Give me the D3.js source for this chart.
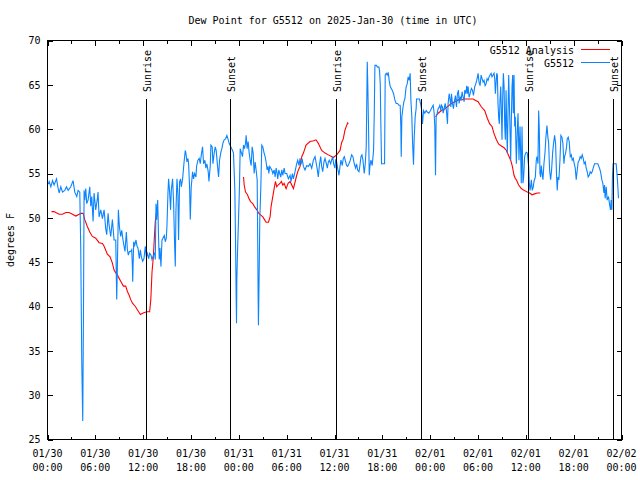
<!DOCTYPE html>
<html><head><meta charset="utf-8">
<script src="https://cdn.jsdelivr.net/npm/d3@7"></script>
<style>
body{margin:0;background:#fff}
svg{display:block}
text{font-family:"DejaVu Sans Mono",monospace;font-size:10px;fill:#000}
</style>
</head><body>
<svg id="c" width="640" height="480"></svg>
<script>
// ---------- data (hours after 2025-01-30 00:00 UTC, degrees F) ----------
const chartTitle = "Dew Point for G5512 on 2025-Jan-30 (time in UTC)";
const yAxisLabel = "degrees F";
const yTicks = [25,30,35,40,45,50,55,60,65,70];
const xMajorHours = [0,6,12,18,24,30,36,42,48,54,60,66,72];
const xMinorHours = [3,9,15,21,27,33,39,45,51,57,63,69];
const sunHours = [12.3,22.85,36.2,46.85,60.25,70.9];
const sunLabels = ["Sunrise","Sunset","Sunrise","Sunset","Sunrise","Sunset"];
const seriesNames = ["G5512 Analysis","G5512"];
const seriesColors = ["#ff0000","#0a84ff"];

// G5512 Analysis (null = gap)
const analysis = [[0.5,50.7],[0.83,50.7],[1.04,50.6],[1.46,50.4],[1.88,50.4],[2.30,50.6],[2.71,50.6],[3.13,50.4],[3.55,50.2],[3.97,50.4],[4.17,50.5],[4.47,50.5],[4.67,49.8],[5.01,49.0],[5.30,48.4],[5.63,47.9],[6.05,47.7],[6.47,47.2],[6.89,47.1],[7.10,46.8],[7.51,45.9],[7.85,45.6],[8.14,44.9],[8.35,44.1],[8.56,43.8],[8.76,43.6],[8.97,43.2],[9.27,42.7],[9.52,42.3],[9.81,42.3],[10.02,41.7],[10.23,41.3],[10.43,40.8],[10.64,40.4],[11.02,40.0],[11.43,39.4],[11.65,39.1],[12.06,39.3],[12.48,39.4],[12.81,39.4],[12.96,40.8],[13.11,43.9],[13.27,45.5],[13.40,47.7],[13.52,49.6],[13.65,50.5],
null,
[24.59,54.6],[24.67,53.7],[24.84,52.9],[25.09,52.6],[25.25,52.2],[25.50,51.8],[25.75,51.6],[26.00,51.2],[26.26,50.9],[26.51,50.5],[26.76,50.3],[27.01,50.1],[27.22,49.8],[27.42,49.5],[27.72,49.5],[27.92,50.1],[28.05,51.3],[28.26,52.4],[28.43,53.3],[28.59,54.1],[28.76,53.5],[28.93,53.7],[29.18,53.9],[29.34,54.1],[29.51,53.7],[29.68,53.9],[29.93,53.3],[30.18,53.9],[30.43,54.1],[30.85,53.3],[31.26,54.8],[31.47,55.4],[31.68,55.8],[31.89,56.9],[32.10,57.3],[32.43,58.2],[32.93,58.6],[33.40,58.7],[33.68,58.8],[33.97,58.4],[34.39,57.6],[34.81,57.3],[35.23,57.1],[35.85,56.8],[36.27,57.1],[36.69,57.6],[36.90,58.5],[37.10,58.9],[37.31,59.9],[37.51,60.4],[37.65,60.7],[37.73,60.6],
null,
[48.67,61.4],[49.00,61.8],[49.42,62.1],[49.84,62.3],[50.25,62.6],[50.67,62.9],[51.09,63.1],[51.51,63.3],[51.92,63.3],[52.34,63.4],[52.97,63.4],[53.38,63.4],[53.59,63.3],[54.01,63.1],[54.43,62.5],[54.84,62.1],[55.18,61.2],[55.47,60.6],[55.76,60.3],[56.01,59.5],[56.31,58.8],[56.60,58.3],[56.93,58.1],[57.27,57.9],[57.56,57.6],[57.85,57.0],[58.10,56.5],[58.31,55.8],[58.52,54.8],[58.70,54.4],[58.81,54.3],[59.10,53.7],[59.43,53.3],[59.77,53.1],[60.19,52.9],[60.48,52.8],[60.77,52.6],[61.10,52.7],[61.44,52.8],[61.81,52.8]];

// G5512 observations
const g5512 = [[0.1,53.8],[0.21,54.1],[0.42,53.5],[0.63,54.2],[0.83,53.7],[1.13,54.4],[1.34,53.3],[1.46,52.8],[1.67,53.5],[1.88,52.9],[2.17,53.1],[2.38,53.5],[2.59,53.1],[2.92,53.5],[3.21,54.2],[3.42,52.9],[3.67,52.4],[3.84,53.1],[4.05,52.9],[4.17,46.6],[4.30,33.6],[4.42,27.1],[4.51,39.1],[4.59,53.1],[4.67,52.0],[4.80,53.3],[4.92,51.6],[5.09,52.0],[5.30,53.5],[5.43,51.3],[5.55,52.4],[5.72,49.6],[5.84,52.8],[6.05,50.9],[6.26,52.2],[6.34,52.9],[6.47,50.1],[6.68,50.9],[6.89,49.9],[7.10,50.9],[7.30,48.8],[7.43,48.1],[7.60,50.5],[7.72,49.2],[7.85,48.4],[7.93,47.9],[8.14,49.8],[8.35,47.5],[8.56,47.5],[8.68,40.8],[8.76,44.3],[8.89,50.9],[9.02,49.0],[9.18,47.9],[9.31,48.6],[9.47,47.5],[9.60,46.8],[9.72,46.2],[9.89,48.4],[10.02,46.4],[10.14,45.8],[10.27,46.2],[10.43,46.2],[10.56,46.4],[10.64,44.7],
[10.69,42.8],[10.81,47.3],[10.94,46.9],[11.10,47.5],[11.23,46.8],[11.35,46.6],[11.52,45.4],[11.65,46.4],[11.77,45.6],[11.94,45.1],[12.10,45.4],[12.27,46.8],[12.40,45.6],[12.52,46.0],[12.69,45.4],[12.81,46.0],[12.98,45.8],[13.11,45.3],[13.31,45.8],[13.44,46.0],[13.52,45.3],[13.61,51.6],[13.69,49.8],[13.82,52.0],[13.94,47.5],[14.02,45.3],[14.11,46.6],[14.23,44.5],[14.36,47.5],[14.48,47.7],[14.65,48.0],[14.78,47.3],[14.90,47.7],[14.98,49.0],[15.11,52.8],[15.19,54.4],[15.32,52.9],[15.44,50.9],[15.53,53.1],[15.69,54.4],[15.82,51.6],[15.94,47.1],[16.03,44.5],[16.11,50.7],[16.24,54.4],[16.36,52.6],[16.44,47.5],[16.57,54.1],[16.69,54.4],[16.78,53.5],[16.95,54.4],[17.11,56.1],[17.28,57.6],[17.36,57.3],[17.49,56.3],[17.61,56.7],[17.70,56.1],[17.82,53.5],[17.91,49.8],[18.03,53.5],[18.20,55.2],[18.32,54.4],[18.45,55.0],[18.62,54.6],[18.70,55.8],[18.87,56.5],[19.03,56.7],
[19.16,56.1],[19.29,57.1],[19.45,58.0],[19.58,56.1],[19.74,56.5],[19.87,55.6],[19.99,56.1],[20.16,55.2],[20.25,54.1],[20.41,55.8],[20.50,58.2],[20.66,58.0],[20.75,56.1],[20.91,57.3],[21.04,58.0],[21.16,57.6],[21.33,55.8],[21.46,54.6],[21.58,56.5],[21.75,57.4],[21.87,57.8],[22.00,58.4],[22.16,58.8],[22.33,58.9],[22.50,59.3],[22.67,58.8],[22.79,58.4],[23.00,58.0],[23.21,57.6],[23.33,57.3],[23.50,53.1],[23.58,47.9],[23.67,40.6],[23.71,38.1],[23.75,43.0],[23.83,46.0],[23.96,49.8],[24.08,53.5],[24.17,57.8],[24.33,57.3],[24.46,56.9],[24.59,58.2],[24.71,57.8],[24.84,58.4],[24.92,59.3],[25.04,57.8],[25.17,58.6],[25.30,57.3],[25.42,56.5],[25.55,55.9],[25.67,58.0],[25.80,57.3],[25.92,55.0],[26.05,56.3],[26.17,55.4],[26.30,54.3],[26.38,46.4],[26.42,41.1],[26.46,37.9],[26.55,43.8],[26.63,49.8],[26.76,53.5],[26.88,58.2],[27.01,58.0],[27.17,57.3],[27.30,56.9],[27.42,56.3],[27.55,55.4],[27.67,55.8],[27.76,55.0],[27.88,55.8],[28.01,55.6],[28.13,55.4],[28.26,55.0],[28.43,55.4],[28.55,54.6],[28.68,55.6],[28.80,55.0],[28.88,54.4],[29.01,55.4],[29.13,55.0],[29.26,54.6],[29.39,55.4],[29.51,54.8],[29.68,55.6],[29.80,55.0],
[30.01,55.0],[30.22,54.4],[30.43,54.8],[30.55,54.1],[30.72,55.0],[30.84,54.4],[31.05,55.2],[31.26,56.1],[31.39,56.5],[31.55,55.9],[31.68,56.7],[31.80,56.1],[31.97,56.5],[32.10,55.8],[32.30,55.4],[32.51,55.9],[32.72,55.8],[32.93,56.1],[33.14,55.6],[33.35,56.5],[33.56,56.9],[33.68,56.3],[33.85,55.4],[33.97,54.6],[34.10,55.9],[34.27,56.9],[34.39,55.8],[34.52,55.2],[34.68,56.3],[34.81,56.7],[34.98,56.1],[35.10,55.6],[35.23,56.3],[35.35,56.5],[35.52,56.1],[35.64,56.5],[35.77,56.9],[35.89,56.1],[36.06,55.6],[36.14,56.5],[36.27,56.3],[36.39,55.6],[36.56,54.8],[36.69,55.8],[36.81,56.5],[36.98,55.9],[37.10,56.7],[37.23,56.9],[37.40,56.3],[37.52,55.9],[37.65,55.8],[37.81,56.1],[37.98,56.5],[38.15,57.1],[38.31,56.9],[38.48,56.1],[38.65,55.6],[38.77,56.1],[38.90,55.4],[39.07,55.2],[39.19,55.9],[39.32,56.9],[39.44,57.1],[39.57,56.5],[39.73,55.0],[39.86,56.1],[39.98,58.0],[40.11,67.6],[40.19,64.4],[40.28,59.5],[40.36,54.8],[40.44,55.8],[40.57,56.5],[40.73,55.9],[40.90,57.6],[40.99,61.9],[41.07,67.2],[41.24,67.2],[41.40,67.0],[41.57,67.0],[41.65,66.6],[41.74,65.1],[41.82,60.3],[41.90,56.1],[42.28,56.1],[42.36,66.1],[42.49,66.3],[42.61,66.1],[42.74,66.4],[42.86,65.5],[42.99,64.8],[43.11,64.6],[43.24,64.4],[43.41,64.0],[43.57,63.3],[43.74,62.9],[43.91,62.9],[44.07,62.7],[44.24,62.7],[44.32,60.3],[44.37,56.9],[44.45,61.4],[44.57,62.3],[44.70,63.1],[44.82,63.4],[44.99,64.8],[45.12,65.1],[45.24,65.9],[45.37,65.5],[45.49,66.3],[45.58,63.3],[45.70,61.4],[45.79,58.6],[45.91,56.0],[45.99,58.8],[46.12,61.4],[46.24,62.3],
[46.29,63.4],[46.66,63.4],[46.79,62.9],[46.91,62.3],[47.04,60.6],[47.17,62.1],[47.33,61.8],[47.50,62.1],[47.67,61.9],[47.83,61.8],[48.04,62.1],[48.25,62.5],[48.38,62.7],[48.50,61.8],[48.58,60.3],[48.67,54.8],[48.75,61.4],[48.88,61.8],[49.00,62.3],[49.13,62.5],[49.21,62.7],[49.34,62.1],[49.42,62.7],[49.54,62.5],[49.63,61.8],[49.75,62.3],[49.88,62.9],[50.04,62.1],[50.17,60.6],[50.25,62.9],[50.38,64.0],[50.50,63.3],[50.59,62.5],[50.67,64.0],[50.80,62.9],[50.92,62.3],[51.00,62.9],[51.17,63.8],[51.30,62.5],[51.42,64.0],[51.55,64.4],[51.63,62.9],[51.76,63.6],[51.88,63.3],[52.01,64.2],[52.13,63.6],[52.26,63.1],[52.34,64.4],[52.47,64.0],[52.59,64.9],[52.67,64.0],[52.76,64.8],[52.88,63.6],[53.01,64.0],[53.17,64.6],[53.30,64.4],[53.43,63.8],[53.59,64.8],[53.72,65.1],[53.84,65.5],[54.01,66.3],[54.13,65.3],[54.26,64.9],[54.39,66.1],[54.51,65.7],[54.64,65.3],[54.76,65.5],[54.89,64.9],[55.01,65.1],[55.14,65.7],[55.26,65.5],[55.39,65.9],[55.51,66.1],[55.64,66.3],[55.76,65.9],[55.89,66.1],[56.01,66.3],[56.10,65.7],[56.18,64.0],[56.26,65.1],[56.35,66.3],[56.43,66.1],[56.51,62.9],[56.60,61.2],[56.68,60.6],[56.76,63.3],[56.85,64.8],[56.93,62.1],[57.01,58.8],[57.10,63.6],[57.18,66.3],[57.27,64.8],[57.35,60.4],[57.43,58.8],[57.52,64.4],[57.60,60.3],[57.68,57.3],[57.77,62.1],[57.85,66.1],[57.93,63.3],[58.02,59.7],[58.10,56.5],[58.18,61.0],[58.27,64.8],[58.35,66.1],[58.43,61.8],[58.52,66.1],[58.60,60.3],
[58.68,61.4],[58.81,56.1],[58.93,59.9],[59.02,61.8],[59.14,56.5],[59.27,60.3],[59.35,57.3],[59.43,53.9],[59.52,60.3],[59.64,53.9],[59.73,54.6],[59.85,56.9],[59.98,57.3],[60.10,57.4],[60.19,57.3],[60.35,55.8],[60.44,53.9],[60.52,53.1],[60.60,53.5],[60.69,54.3],[60.81,53.1],[60.94,53.5],[61.02,54.1],[61.19,54.6],[61.31,56.5],[61.40,56.9],[61.52,56.1],[61.61,62.1],[61.69,59.9],[61.77,55.0],[61.86,54.6],[61.94,55.9],[62.02,55.2],[62.15,54.3],[62.27,56.1],[62.40,57.3],[62.52,59.1],[62.65,60.4],[62.77,59.1],[62.86,58.4],[62.98,55.4],[63.11,54.3],[63.23,55.4],[63.36,57.3],[63.48,58.4],[63.61,59.3],[63.73,58.4],[63.86,54.6],[63.94,53.1],[64.03,54.6],[64.15,54.3],[64.28,56.5],[64.40,59.3],[64.53,59.1],[64.65,58.4],[64.78,56.1],[64.86,56.9],[64.99,57.3],[65.11,58.0],[65.19,58.9],[65.32,59.1],[65.44,58.6],[65.57,56.9],[65.70,57.1],[65.82,56.5],[65.95,56.7],[66.07,56.1],[66.20,55.6],[66.32,54.3],[66.45,55.4],[66.57,56.3],[66.70,56.5],[66.82,56.9],[66.95,56.7],[67.07,57.1],[67.20,56.7],[67.32,56.1],[67.45,56.3],[67.57,55.6],[67.70,55.2],[67.82,54.6],[67.95,54.8],[68.07,55.2],[68.20,55.0],[68.32,55.2],[68.45,55.6],[68.62,56.1],[68.83,56.1],[69.03,56.1],[69.24,55.6],[69.37,55.2],[69.53,54.3],[69.66,53.9],[69.79,52.8],[69.87,53.7],[69.95,52.2],[70.08,53.5],[70.20,52.0],[70.37,52.4],[70.49,51.6],[70.62,50.9],[70.70,52.0],[70.79,50.9],[70.87,54.8],[70.95,56.1],[71.12,56.1],[71.33,56.1],[71.45,54.8],[71.54,53.5],[71.62,52.2]];

// ---------- drawing ----------
const t0 = Date.UTC(2025, 0, 30);
const toDate = h => new Date(t0 + h * 3600000);
const svg = d3.select("#c");
const L = 47.5, R = 621.5, T = 40.5, B = 439.5;
const x = d3.scaleUtc().domain([toDate(0), toDate(72)]).range([L, R]);
const y = d3.scaleLinear().domain([25, 70]).range([B, T]);

svg.append("rect").attr("width",640).attr("height",480).attr("fill","#fff");

// title & y label
svg.append("text").attr("x",333).attr("y",24).attr("text-anchor","middle").text(chartTitle);
svg.append("text").attr("transform","translate(14,240) rotate(-90)").attr("text-anchor","middle").text(yAxisLabel);

function styleAxis(g){
  g.select(".domain").remove();
  g.selectAll("line").attr("stroke","#000").attr("shape-rendering","crispEdges");
  g.selectAll("text").attr("font-family","DejaVu Sans Mono").attr("font-size",10).attr("fill","#000");
}

// y axes
svg.append("g").attr("transform",`translate(${L},0)`)
  .call(d3.axisLeft(y).tickValues(yTicks).tickSizeInner(-5).tickSizeOuter(0).tickPadding(7).tickFormat(d3.format("d")))
  .call(styleAxis);
svg.append("g").attr("transform",`translate(${R},0)`)
  .call(d3.axisRight(y).tickValues(yTicks).tickSizeInner(-5).tickSizeOuter(0).tickFormat(""))
  .call(styleAxis);

// x axes (major + minor, bottom + top)
const fmtD = d3.utcFormat("%m/%d"), fmtT = d3.utcFormat("%H:%M");
svg.append("g").attr("transform",`translate(0,${B})`)
  .call(d3.axisBottom(x).tickValues(xMajorHours.map(toDate)).tickSizeInner(-5).tickSizeOuter(0).tickFormat(""))
  .call(styleAxis);
svg.append("g").attr("transform",`translate(0,${B})`)
  .call(d3.axisBottom(x).tickValues(xMinorHours.map(toDate)).tickSizeInner(-3).tickSizeOuter(0).tickFormat(""))
  .call(styleAxis);
svg.append("g").attr("transform",`translate(0,${T})`)
  .call(d3.axisTop(x).tickValues(xMajorHours.map(toDate)).tickSizeInner(-5).tickSizeOuter(0).tickFormat(""))
  .call(styleAxis);
svg.append("g").attr("transform",`translate(0,${T})`)
  .call(d3.axisTop(x).tickValues(xMinorHours.map(toDate)).tickSizeInner(-3).tickSizeOuter(0).tickFormat(""))
  .call(styleAxis);

const xl = svg.append("g").selectAll("text").data(xMajorHours.map(toDate)).join("text")
  .attr("text-anchor","middle").attr("x", d => x(d));
xl.append("tspan").attr("x", d => x(d)).attr("y", 457).text(d => fmtD(d));
xl.append("tspan").attr("x", d => x(d)).attr("y", 471).text(d => fmtT(d));

// data lines
const line = d3.line().defined(d => d !== null).x(d => x(toDate(d[0]))).y(d => y(d[1]));
svg.append("clipPath").attr("id","pc").append("rect")
  .attr("x",L).attr("y",T).attr("width",R-L).attr("height",B-T);
svg.append("path").datum(analysis).attr("d",line).attr("fill","none")
  .attr("stroke",seriesColors[0]).attr("stroke-width",1.1).attr("clip-path","url(#pc)");
svg.append("path").datum(g5512).attr("d",line).attr("fill","none")
  .attr("stroke",seriesColors[1]).attr("stroke-width",1.1).attr("clip-path","url(#pc)");

// sunrise / sunset markers
const sg = svg.append("g");
sg.selectAll("line").data(sunHours).join("line")
  .attr("x1", d => Math.round(x(toDate(d))) + 0.5).attr("x2", d => Math.round(x(toDate(d))) + 0.5)
  .attr("y1", 99).attr("y2", B).attr("stroke","#000").attr("stroke-width",1).attr("shape-rendering","crispEdges");
sg.selectAll("text").data(sunHours).join("text")
  .attr("transform", d => `translate(${Math.round(x(toDate(d))) + 4.5},92) rotate(-90)`)
  .attr("text-anchor","start").text((d,i) => sunLabels[i]);

// border
svg.append("rect").attr("x",L).attr("y",T).attr("width",R-L).attr("height",B-T)
  .attr("fill","none").attr("stroke","#000").attr("shape-rendering","crispEdges");

// legend
const lg = svg.append("g");
seriesNames.forEach((n,i) => {
  const yy = [49.5, 62.5][i];
  lg.append("text").attr("x",574).attr("y",yy+4).attr("text-anchor","end").text(n);
  lg.append("line").attr("x1",581).attr("x2",610).attr("y1",yy).attr("y2",yy)
    .attr("stroke",seriesColors[i]).attr("stroke-width",1).attr("shape-rendering","crispEdges");
});
</script>
</body></html>
